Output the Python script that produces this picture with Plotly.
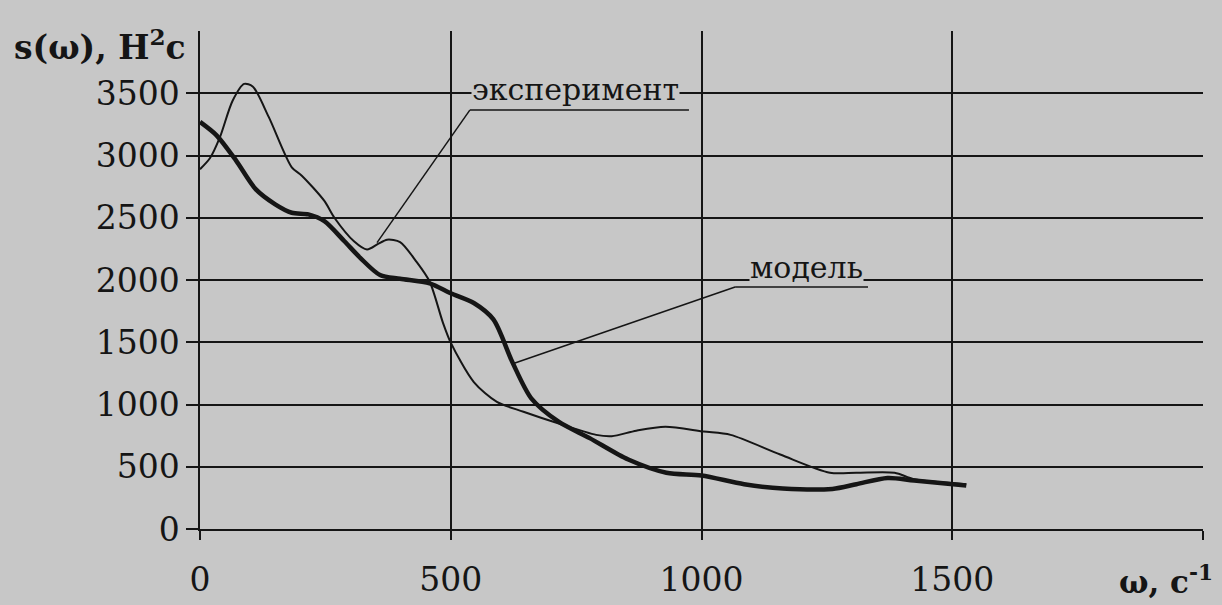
import plotly.graph_objects as go

# ---- data ----
exp_x = [0, 20, 40, 65, 88, 105, 137, 183, 203, 248, 268, 307, 333, 355, 373, 399,
         431, 458, 484, 500, 546, 592, 645, 714, 790, 821, 870, 928, 1004, 1058,
         1157, 1256, 1309, 1385, 1424, 1528]
exp_y = [2890, 2980, 3150, 3440, 3575, 3555, 3310, 2905, 2838, 2635, 2500, 2311, 2245,
         2290, 2324, 2305, 2150, 1986, 1662, 1497, 1180, 1021, 942, 849, 756, 745,
         790, 822, 783, 756, 598, 452, 452, 452, 399, 360]

mod_x = [0, 33, 72, 111, 150, 183, 216, 248, 288, 320, 359, 399, 458, 500, 546, 585,
         623, 661, 715, 777, 854, 930, 1000, 1085, 1162, 1261, 1309, 1371, 1424, 1528]
mod_y = [3270, 3162, 2959, 2730, 2608, 2540, 2527, 2473, 2311, 2176, 2040, 2010, 1973,
         1894, 1815, 1683, 1339, 1047, 862, 730, 558, 452, 430, 360, 325, 322, 360,
         410, 390, 350]

x_ticks = [0, 500, 1000, 1500]
y_ticks = [0, 500, 1000, 1500, 2000, 2500, 3000, 3500]

label_exp = "эксперимент"
label_mod = "модель"
y_title = "s(ω), Н<sup>2</sup>с"
x_title = "ω, с<sup>-1</sup>"

BG = "#c7c7c7"
INK = "#151515"
FONT = "DejaVu Serif"

fig = go.Figure()
fig.add_trace(go.Scatter(x=exp_x, y=exp_y, mode="lines", name=label_exp,
                         line=dict(color=INK, width=2, shape="spline", smoothing=0.8)))
fig.add_trace(go.Scatter(x=mod_x, y=mod_y, mode="lines", name=label_mod,
                         line=dict(color=INK, width=4.5, shape="spline", smoothing=0.8)))

# label texts sit on their underline (paper-coloured box interrupts the gridline)
fig.add_annotation(x=748, y=3380, yanchor="bottom", text=label_exp, showarrow=False,
                   bgcolor=BG, font=dict(family=FONT, size=30, color=INK), borderpad=0)
fig.add_annotation(x=1210, y=1955, yanchor="bottom", text=label_mod, showarrow=False,
                   bgcolor=BG, font=dict(family=FONT, size=30, color=INK), borderpad=0)

# underlines and leader lines
line_style = dict(color=INK, width=1.5)
fig.add_shape(type="line", x0=538, y0=3365, x1=975, y1=3365, line=line_style)
fig.add_shape(type="line", x0=538, y0=3365, x1=353, y1=2300, line=line_style)
fig.add_shape(type="line", x0=1067, y0=1944, x1=1332, y1=1944, line=line_style)
fig.add_shape(type="line", x0=1067, y0=1944, x1=628, y1=1333, line=line_style)

fig.add_annotation(xref="paper", yref="paper", x=-0.187, y=0.971, xanchor="left",
                   yanchor="middle", text=y_title, showarrow=False,
                   font=dict(family=FONT, size=33, color=INK, weight="bold"))
fig.add_annotation(xref="paper", yref="paper", x=1.012, y=-0.103, xanchor="right",
                   yanchor="middle", text=x_title, showarrow=False,
                   font=dict(family=FONT, size=31, color=INK, weight="bold"))

fig.update_xaxes(range=[0, 2000], tickvals=x_ticks, ticktext=[str(v) for v in x_ticks],
                 ticks="outside", ticklen=9, tickwidth=1.5, tickcolor=INK,
                 showgrid=True, gridcolor=INK, gridwidth=1.5,
                 showline=True, linecolor=INK, linewidth=1.5, zeroline=False,
                 minor=dict(tickvals=[2000], ticks="outside", ticklen=9, tickwidth=1.5,
                            tickcolor=INK, showgrid=False),
                 ticklabelstandoff=12, automargin=False,
                 tickfont=dict(family=FONT, size=33, color=INK))
fig.update_yaxes(range=[0, 4000], tickvals=y_ticks, ticktext=[str(v) for v in y_ticks],
                 ticks="outside", ticklen=12, tickwidth=1.5, tickcolor=INK,
                 showgrid=True, gridcolor=INK, gridwidth=1.5,
                 showline=True, linecolor=INK, linewidth=1.5, zeroline=False,
                 automargin=False,
                 tickfont=dict(family=FONT, size=33, color=INK))

fig.update_layout(width=1222, height=605, showlegend=False,
                  paper_bgcolor=BG, plot_bgcolor=BG,
                  margin=dict(l=200, r=19, t=31, b=76))

fig.write_html("out.html", config={"displayModeBar": False},
               post_script="document.body.style.margin='0';document.body.style.background='" + BG + "';")
